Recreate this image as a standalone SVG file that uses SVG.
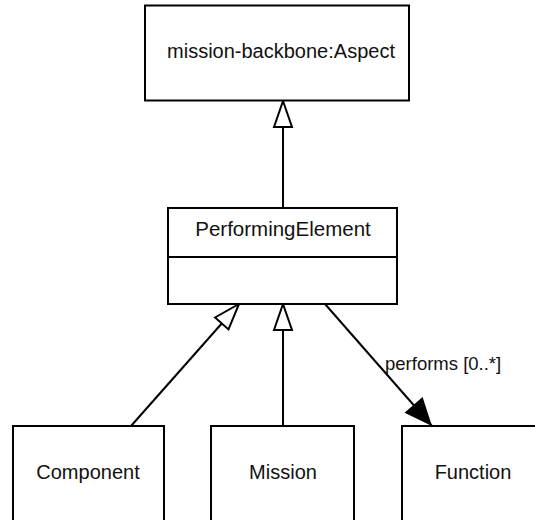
<svg xmlns="http://www.w3.org/2000/svg" width="535" height="520" viewBox="0 0 535 520">
<style>
.box{fill:#fff;stroke:#000;stroke-width:2}
.t{font-family:"Liberation Sans",Arial,sans-serif;font-size:20px;fill:#111;text-anchor:middle}
.lbl{font-family:"Liberation Sans",Arial,sans-serif;font-size:18.5px;fill:#111}
.c{stroke:#000;stroke-width:2;fill:none}
</style>
<defs>
<marker id="gen" markerUnits="userSpaceOnUse" viewBox="0 0 28 20" refX="27" refY="10" markerWidth="28" markerHeight="20" orient="auto" overflow="visible">
<path d="M1,1 L27,10 L1,19 Z" fill="#fff" stroke="#000" stroke-width="2" stroke-linejoin="miter"/>
</marker>
<marker id="arr" markerUnits="userSpaceOnUse" viewBox="0 0 28 24" refX="28" refY="12" markerWidth="28" markerHeight="24" orient="auto" overflow="visible">
<path d="M0,0 L28,12 L0,24 Z" fill="#000"/>
</marker>
</defs>
<g id="connectors">
<line class="c" x1="283" y1="208" x2="283" y2="101" marker-end="url(#gen)"/>
<line class="c" x1="131" y1="426" x2="239" y2="304" marker-end="url(#gen)"/>
<line class="c" x1="283" y1="426" x2="283" y2="304" marker-end="url(#gen)"/>
<line class="c" x1="325" y1="304" x2="432" y2="426" marker-end="url(#arr)"/>
<text class="lbl" x="385" y="370">performs [0..*]</text>
</g>
<g id="aspect">
<rect class="box" x="145" y="5.5" width="264" height="95"/>
<text class="t" x="281" y="58">mission-backbone:Aspect</text>
</g>
<g id="performingElement">
<rect class="box" x="168" y="208" width="229" height="96"/>
<line class="c" x1="168" y1="257" x2="397" y2="257"/>
<text class="t" x="283" y="236" style="font-size:20.5px">PerformingElement</text>
</g>
<g id="component">
<rect class="box" x="13" y="426" width="151" height="110"/>
<text class="t" x="88" y="479">Component</text>
</g>
<g id="mission">
<rect class="box" x="211" y="426" width="143" height="110"/>
<text class="t" x="283" y="479">Mission</text>
</g>
<g id="function">
<rect class="box" x="402" y="426" width="143" height="110"/>
<text class="t" x="473" y="479">Function</text>
</g>
</svg>
